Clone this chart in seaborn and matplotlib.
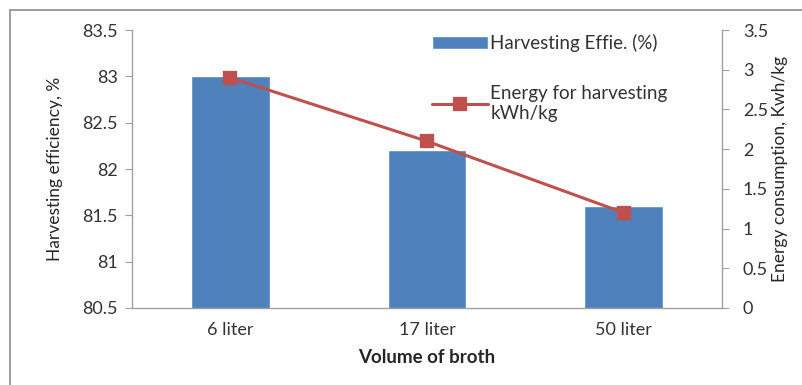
import pandas as pd
import matplotlib
matplotlib.use("Agg")
import matplotlib.pyplot as plt
import seaborn as sns
from matplotlib.patches import Rectangle

# data
volumes = ["6 liter", "17 liter", "50 liter"]
efficiency = [83.0, 82.2, 81.6]
energy = [2.9, 2.1, 1.2]

df = pd.DataFrame({"Volume": volumes, "Efficiency": efficiency, "Energy": energy})

sns.set_style("white")
plt.rcParams["font.family"] = ["Lato", "DejaVu Sans"]

fig = plt.figure(figsize=(8.03, 3.85), dpi=100)
ax = fig.add_axes([0.1644, 0.2, 0.7346, 0.722])

bar_color = "#4F81BD"
line_color = "#C0504D"
grey = "#A0A0A0"

sns.barplot(data=df, x="Volume", y="Efficiency", color=bar_color, width=0.4,
            saturation=1, ax=ax, label="Harvesting Effie. (%)")
ax.set_ylim(80.5, 83.5)
ax.set_xlim(-0.5, 2.5)
ax.set_yticks([80.5, 81, 81.5, 82, 82.5, 83, 83.5])
ax.set_yticklabels(["80.5", "81", "81.5", "82", "82.5", "83", "83.5"])

ax2 = ax.twinx()
sns.pointplot(data=df, x="Volume", y="Energy", color=line_color, markers="s",
              markersize=9, linewidth=2.2, ax=ax2, label="Energy for harvesting\nkWh/kg")
ax2.set_ylim(0, 3.5)
ax2.set_xlim(-0.5, 2.5)
ax2.set_yticks([0, 0.5, 1, 1.5, 2, 2.5, 3, 3.5])
ax2.set_yticklabels(["0", "0.5", "1", "1.5", "2", "2.5", "3", "3.5"])

for a in (ax, ax2):
    a.spines["top"].set_visible(False)
    for s in ("left", "right", "bottom"):
        a.spines[s].set_color(grey)
        a.spines[s].set_linewidth(1)
    a.tick_params(axis="y", length=5, color=grey, labelsize=13, labelcolor="#333333")
    a.tick_params(axis="x", length=0, labelsize=13, labelcolor="#333333", pad=10)
ax.tick_params(axis="y", left=True, pad=5)
ax2.tick_params(axis="y", right=True, pad=10)
ax.spines["right"].set_visible(False)
ax2.spines["left"].set_visible(False)
ax2.spines["bottom"].set_visible(False)

ax.set_xlabel("Volume of broth", fontsize=13.5, fontweight="bold", labelpad=8)
ax.set_ylabel("Harvesting efficiency, %", fontsize=12.5, labelpad=14)
ax2.set_ylabel("Energy consumption, Kwh/kg", fontsize=12.5, labelpad=3)

h1, l1 = ax.get_legend_handles_labels()
h2, l2 = ax2.get_legend_handles_labels()
if ax.get_legend() is not None:
    ax.get_legend().remove()
leg = ax2.legend(h1 + h2, l1 + l2, loc="upper left", bbox_to_anchor=(0.48, 1.045),
                 frameon=False, fontsize=13.5, handlelength=3.0, handletextpad=0.1,
                 labelspacing=1.75)
for t in leg.get_texts():
    t.set_color("#333333")

# outer chart border
fig.patches.append(Rectangle((0.013, -0.05), 1.1, 1.023, transform=fig.transFigure,
                             fill=False, edgecolor="#8C8C8C", linewidth=1.2))

fig.savefig("out.png", dpi=100)
